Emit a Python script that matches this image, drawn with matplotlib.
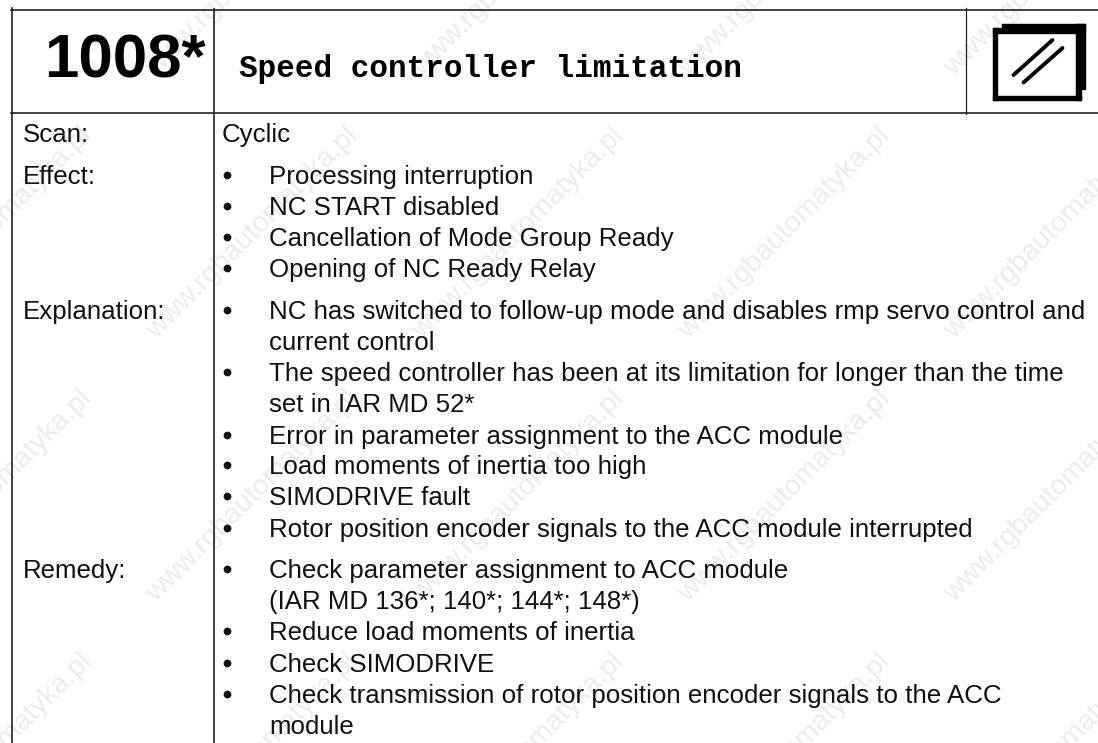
import matplotlib
matplotlib.use('Agg')
import matplotlib.pyplot as plt
from matplotlib.patches import Rectangle

# alarm sheet text
alarm_no = '1008*'
alarm_title = 'Speed controller limitation'
watermark = 'www.rgbautomatyka.pl'

row_labels = ['Scan:', 'Effect:', 'Explanation:', 'Remedy:']
scan_lines = ['Cyclic']
effect_lines = ['•Processing interruption',
                '•NC START disabled',
                '•Cancellation of Mode Group Ready',
                '•Opening of NC Ready Relay']
explanation_lines = ['•NC has switched to follow-up mode and disables rmp servo control and',
                     'current control',
                     '•The speed controller has been at its limitation for longer than the time',
                     'set in IAR MD 52*',
                     '•Error in parameter assignment to the ACC module',
                     '•Load moments of inertia too high',
                     '•SIMODRIVE fault',
                     '•Rotor position encoder signals to the ACC module interrupted']
remedy_lines = ['•Check parameter assignment to ACC module',
                '(IAR MD 136*; 140*; 144*; 148*)',
                '•Reduce load moments of inertia',
                '•Check SIMODRIVE',
                '•Check transmission of rotor position encoder signals to the ACC',
                'module']

# baselines in pixels from the top of the page
label_y = [142, 184, 319, 578]
scan_y = [142]
effect_y = [184, 215, 246, 277]
explanation_y = [319, 350, 381, 412, 444, 474, 505, 537]
remedy_y = [578, 609, 640, 672, 703, 734]

ink = '#111111'
body_size = 18.6

plt.rcParams['font.family'] = ['Liberation Sans', 'DejaVu Sans']

fig = plt.figure(figsize=(10.98, 7.43), dpi=100)
ax = fig.add_axes([0, 0, 1, 1])
ax.set_xlim(0, 1098)
ax.set_ylim(743, 0)
ax.axis('off')

# faint diagonal watermark behind everything
for cy in [-30, 233, 496, 759]:
    for cx in [-14, 252, 518, 784, 1050]:
        ax.text(cx, cy, watermark, fontsize=20.5, color='#ecebe9', rotation=45,
                ha='center', va='center', rotation_mode='anchor', zorder=1)

# table rules
ax.plot([11, 1098], [9.5, 9.5], color='#222222', lw=1.2, zorder=2)
ax.plot([11, 1098], [113, 113], color='#222222', lw=1.2, zorder=2)
ax.plot([12, 12], [8, 743], color='#222222', lw=1.2, zorder=2)
ax.plot([214, 214], [9, 743], color='#222222', lw=1.2, zorder=2)
ax.plot([966, 966], [8, 114], color='#222222', lw=0.9, zorder=2)

# header
ax.text(44, 77.5, alarm_no, fontsize=44.5, fontweight='bold', color='black',
        ha='left', va='baseline', zorder=3)
ax.text(239, 77, alarm_title, fontsize=22.3, fontweight='bold', color='black',
        family='Liberation Mono', ha='left', va='baseline', zorder=3)

# icon: window with shadow on the top and right
ax.add_patch(Rectangle((992.5, 28), 4.5, 72, color='black', zorder=3))
ax.add_patch(Rectangle((992.5, 95.5), 88, 4.5, color='black', zorder=3))
ax.add_patch(Rectangle((992.5, 28), 86, 4.5, color='black', zorder=3))
ax.add_patch(Rectangle((1001.5, 24), 83, 8, color='black', zorder=3))
ax.add_patch(Rectangle((1076, 24), 8.5, 65, color='black', zorder=3))
ax.add_patch(Rectangle((1076, 88), 4.5, 12, color='black', zorder=3))
ax.plot([1013.5, 1052.5], [75, 40], color='black', lw=2.8, solid_capstyle='round', zorder=3)
ax.plot([1023.5, 1062.5], [82.5, 48], color='black', lw=2.8, solid_capstyle='round', zorder=3)

# body
for label, y in zip(row_labels, label_y):
    ax.text(22.5, y, label, fontsize=body_size, color=ink, ha='left', va='baseline', zorder=3)

ax.text(222, scan_y[0], scan_lines[0], fontsize=body_size, color=ink, ha='left', va='baseline', zorder=3)

for lines, ys in [(effect_lines, effect_y), (explanation_lines, explanation_y), (remedy_lines, remedy_y)]:
    for line, y in zip(lines, ys):
        if line.startswith('•'):
            ax.plot([226.7], [y - 9], marker='o', ms=5.6, color=ink, mew=0, zorder=3)
            line = line[1:]
        ax.text(269, y, line, fontsize=body_size, color=ink, ha='left', va='baseline', zorder=3)

fig.savefig('out.png', dpi=100, facecolor='white')
